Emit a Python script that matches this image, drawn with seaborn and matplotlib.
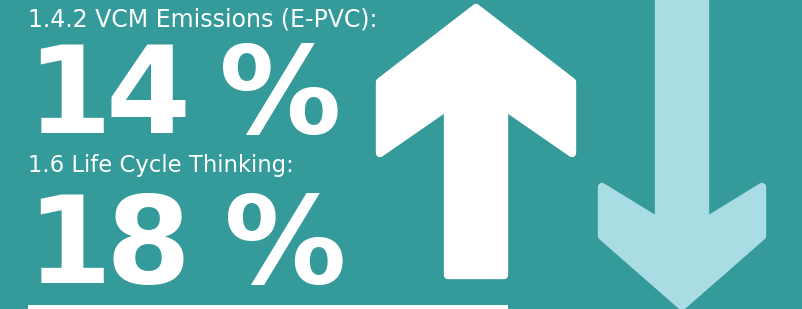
import matplotlib
matplotlib.use("Agg")
import matplotlib.pyplot as plt
import seaborn as sns
from matplotlib.patches import Polygon, Rectangle

# -----------------------------
# data
# -----------------------------
labels = ["1.4.2 VCM Emissions (E-PVC):", "1.6 Life Cycle Thinking:"]
values = [14, 18]
label_baselines = [27, 172]
label_widths = [350, 267]
value_baselines = [133, 283]
value_right = [342, 347]

bg = "#359a9a"
light = "#a9dde3"

sns.set_theme(style="white")
plt.rcParams["font.family"] = ["DejaVu Sans"]

fig = plt.figure(figsize=(8.03, 3.09), dpi=100)
fig.patch.set_facecolor(bg)
ax = fig.add_axes([0, 0, 1, 1])
ax.set_facecolor(bg)
ax.set_xlim(0, 803)
ax.set_ylim(309, 0)
ax.axis("off")

# -----------------------------
# texts
# -----------------------------
renderer = fig.canvas.get_renderer()
big = dict(color="white", fontsize=88, fontweight="bold", va="baseline")
for lab, val, yb, w, vb, xr in zip(labels, values, label_baselines, label_widths,
                                   value_baselines, value_right):
    t = ax.text(28, yb, lab, color="white", fontsize=15, va="baseline", ha="left")
    # fit label width to the reference
    ext = t.get_window_extent(renderer)
    t.set_fontsize(15 * w / ext.width)
    # spread the big glyphs over the same span as the reference font
    d1, d2 = str(val)
    ax.text(26, vb, d1, ha="left", **big)
    ax.text(148, vb, d2, ha="center", **big)
    ax.text(xr, vb, "%", ha="right", **big)

# white bar along bottom
ax.add_patch(Rectangle((28, 305), 480, 6, color="white", lw=0))

# -----------------------------
# arrows
# -----------------------------
up = [(476, 8), (572, 82), (572, 153), (504, 106), (504, 275), (448, 275),
      (448, 106), (380, 153), (380, 82)]
ax.add_patch(Polygon(up, closed=True, facecolor="white", edgecolor="white",
                     lw=6, joinstyle="round"))

down = [(659, -20), (705, -20), (705, 222), (762, 187), (762, 236), (682, 306),
        (602, 236), (602, 187), (659, 222)]
ax.add_patch(Polygon(down, closed=True, facecolor=light, edgecolor=light,
                     lw=6, joinstyle="round"))

fig.savefig("out.png", dpi=100, facecolor=bg)
